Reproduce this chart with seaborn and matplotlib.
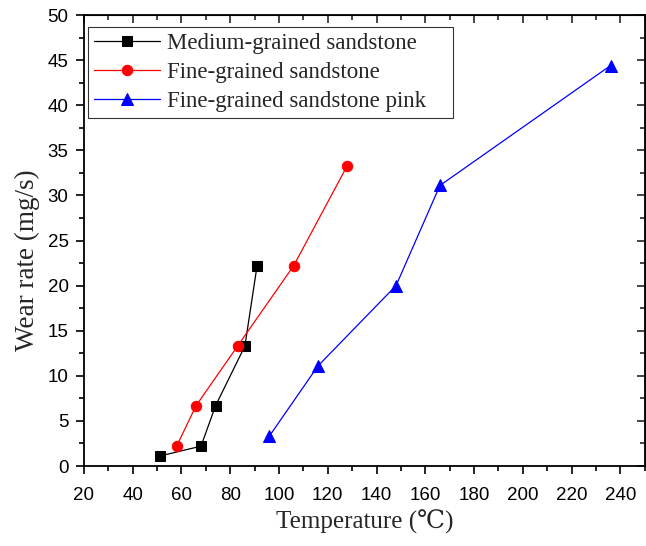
import matplotlib
matplotlib.use("Agg")
import matplotlib.pyplot as plt
import seaborn as sns
import pandas as pd
from matplotlib.ticker import MultipleLocator

medium_T = [51, 68, 74, 86, 91]
medium_W = [1.1, 2.2, 6.7, 13.3, 22.2]
fine_T = [58, 66, 83, 106, 128]
fine_W = [2.2, 6.7, 13.3, 22.2, 33.3]
pink_T = [96, 116, 148, 166, 236]
pink_W = [3.3, 11.1, 20.0, 31.1, 44.4]
labels = ["Medium-grained sandstone", "Fine-grained sandstone", "Fine-grained sandstone pink"]

sns.set_style("ticks")
plt.rcParams['font.family'] = ['Liberation Sans', 'DejaVu Sans']

fig = plt.figure(figsize=(6.46, 5.46), dpi=100)
ax = fig.add_axes([0.130, 0.1465, 0.868, 0.826])

series = [
    (medium_T, medium_W, labels[0], "black", "s", 7),
    (fine_T, fine_W, labels[1], "red", "o", 7.5),
    (pink_T, pink_W, labels[2], "blue", "^", 9),
]
for T, W, lab, col, mk, ms in series:
    df = pd.DataFrame({"T": T, "W": W})
    sns.lineplot(data=df, x="T", y="W", ax=ax, sort=False, color=col, marker=mk,
                 markersize=ms, markeredgecolor=col, linewidth=0.9, label=lab)

ax.set_xlim(20, 250)
ax.set_ylim(0, 50)
ax.xaxis.set_major_locator(MultipleLocator(20))
ax.xaxis.set_minor_locator(MultipleLocator(10))
ax.yaxis.set_major_locator(MultipleLocator(5))
ax.yaxis.set_minor_locator(MultipleLocator(2.5))
ax.tick_params(which="both", direction="out", width=1.2, colors="black",
               labelsize=13.5, top=False, right=False)
ax.tick_params(axis="x", which="major", pad=9)
ax.tick_params(axis="y", which="major", pad=5)
ax.tick_params(which="major", length=6)
ax.tick_params(which="minor", length=3.5)
for s in ax.spines.values():
    s.set_linewidth(1.3)
    s.set_color("black")

# mirrored inward ticks on top/right
axt = ax.secondary_xaxis("top")
axt.xaxis.set_major_locator(MultipleLocator(20))
axt.xaxis.set_minor_locator(MultipleLocator(10))
axt.tick_params(which="both", direction="in", width=1.2, labeltop=False)
axt.tick_params(which="major", length=6)
axt.tick_params(which="minor", length=3.5)
axr = ax.secondary_yaxis("right")
axr.yaxis.set_major_locator(MultipleLocator(5))
axr.yaxis.set_minor_locator(MultipleLocator(2.5))
axr.tick_params(which="both", direction="in", width=1.2, labelright=False)
axr.tick_params(which="major", length=6)
axr.tick_params(which="minor", length=3.5)

serif = ['Liberation Serif', 'DejaVu Serif']
ax.set_xlabel("Temperature (℃)", fontsize=18, family=serif, labelpad=4)
ax.set_ylabel("Wear rate (mg/s)", fontsize=19.5, family=serif)
ax.yaxis.set_label_coords(-0.078, 0.457)

leg = ax.legend(loc="upper left", bbox_to_anchor=(0.007, 0.5, 0.651, 0.473),
                mode="expand", borderaxespad=0,
                prop={'family': serif, 'size': 16.5}, frameon=True, fancybox=False,
                edgecolor="black", handlelength=2.9, borderpad=0.25, labelspacing=0.35,
                handletextpad=0.3)
leg.get_frame().set_linewidth(0.8)

fig.savefig("out.png", dpi=100)
